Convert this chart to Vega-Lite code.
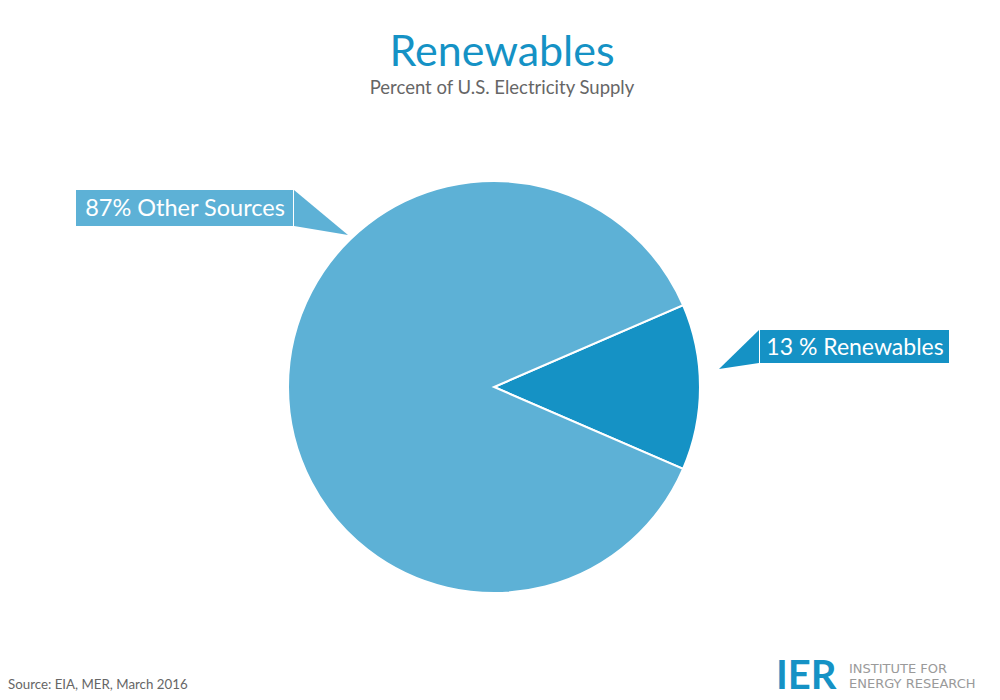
{
  "$schema": "https://vega.github.io/schema/vega-lite/v6.json",
  "width": 1000,
  "height": 700,
  "autosize": {"type": "fit", "contains": "padding"},
  "padding": 0,
  "background": "white",
  "config": {"view": {"stroke": null}, "font": "Lato"},
  "datasets": {
    "slices": [
      {"category": "Renewables", "label": "13 % Renewables", "value": 13, "order": 1},
      {"category": "Other Sources", "label": "87% Other Sources", "value": 87, "order": 2}
    ],
    "notes": [
      {"key": "title", "text": "Renewables"},
      {"key": "subtitle", "text": "Percent of U.S. Electricity Supply"},
      {"key": "source", "text": "Source: EIA, MER, March 2016"},
      {"key": "logo", "text": "IER"},
      {"key": "logotext", "text": ["INSTITUTE FOR", "ENERGY RESEARCH"]}
    ]
  },
  "data": {"name": "slices"},
  "layer": [
    {
      "mark": {"type": "arc", "outerRadius": 206, "stroke": "white", "strokeWidth": 2},
      "encoding": {
        "theta": {"field": "value", "type": "quantitative", "stack": true, "scale": {"range": [1.1624, 7.4456]}},
        "order": {"field": "order", "type": "quantitative"},
        "color": {"field": "category", "type": "nominal", "scale": {"domain": ["Renewables", "Other Sources"], "range": ["#1592c5", "#5db1d6"]}, "legend": null},
        "x": {"datum": 494, "type": "quantitative", "scale": {"domain": [0, 1000], "nice": false, "zero": false}, "axis": null},
        "y": {"datum": 387, "type": "quantitative", "scale": {"domain": [0, 700], "nice": false, "zero": false, "reverse": true}, "axis": null}
      }
    },
    {
      "transform": [{"filter": "datum.category === 'Other Sources'"}],
      "mark": {"type": "rect"},
      "encoding": {
        "x": {"datum": 76, "type": "quantitative"},
        "x2": {"datum": 293},
        "y": {"datum": 190, "type": "quantitative"},
        "y2": {"datum": 226},
        "color": {"field": "category", "type": "nominal", "legend": null}
      }
    },
    {
      "transform": [{"filter": "datum.category === 'Renewables'"}],
      "mark": {"type": "rect"},
      "encoding": {
        "x": {"datum": 760, "type": "quantitative"},
        "x2": {"datum": 949},
        "y": {"datum": 330, "type": "quantitative"},
        "y2": {"datum": 363},
        "color": {"field": "category", "type": "nominal", "legend": null}
      }
    },
    {
      "transform": [{"filter": "datum.category === 'Other Sources'"}],
      "mark": {"type": "point", "shape": "M0,0 L0,0.72 L1.08,0.9 Z", "size": 10000, "filled": true, "opacity": 1, "strokeWidth": 0},
      "encoding": {
        "x": {"datum": 294, "type": "quantitative"},
        "y": {"datum": 190, "type": "quantitative"},
        "color": {"field": "category", "type": "nominal", "legend": null}
      }
    },
    {
      "transform": [{"filter": "datum.category === 'Renewables'"}],
      "mark": {"type": "point", "shape": "M0,0 L0,0.66 L-0.8,0.78 Z", "size": 10000, "filled": true, "opacity": 1, "strokeWidth": 0},
      "encoding": {
        "x": {"datum": 759, "type": "quantitative"},
        "y": {"datum": 330, "type": "quantitative"},
        "color": {"field": "category", "type": "nominal", "legend": null}
      }
    },
    {
      "transform": [{"filter": "datum.category === 'Other Sources'"}],
      "mark": {"type": "text", "color": "white", "fontSize": 23.5, "font": "Lato", "align": "center", "baseline": "alphabetic"},
      "encoding": {
        "x": {"datum": 185, "type": "quantitative"},
        "y": {"datum": 216, "type": "quantitative"},
        "text": {"field": "label"}
      }
    },
    {
      "transform": [{"filter": "datum.category === 'Renewables'"}],
      "mark": {"type": "text", "color": "white", "fontSize": 23, "font": "Lato", "align": "center", "baseline": "alphabetic"},
      "encoding": {
        "x": {"datum": 855, "type": "quantitative"},
        "y": {"datum": 355, "type": "quantitative"},
        "text": {"field": "label"}
      }
    },
    {
      "data": {"name": "notes"},
      "transform": [{"filter": "datum.key === 'title'"}],
      "mark": {"type": "text", "color": "#1592c5", "fontSize": 43, "font": "Lato", "align": "center", "baseline": "alphabetic"},
      "encoding": {
        "x": {"datum": 502, "type": "quantitative"},
        "y": {"datum": 66, "type": "quantitative"},
        "text": {"field": "text"}
      }
    },
    {
      "data": {"name": "notes"},
      "transform": [{"filter": "datum.key === 'subtitle'"}],
      "mark": {"type": "text", "color": "#666666", "fontSize": 18.5, "font": "Lato", "align": "center", "baseline": "alphabetic"},
      "encoding": {
        "x": {"datum": 502, "type": "quantitative"},
        "y": {"datum": 93.5, "type": "quantitative"},
        "text": {"field": "text"}
      }
    },
    {
      "data": {"name": "notes"},
      "transform": [{"filter": "datum.key === 'source'"}],
      "mark": {"type": "text", "color": "#666666", "fontSize": 13.3, "font": "Lato", "align": "left", "baseline": "alphabetic"},
      "encoding": {
        "x": {"datum": 8, "type": "quantitative"},
        "y": {"datum": 689, "type": "quantitative"},
        "text": {"field": "text"}
      }
    },
    {
      "data": {"name": "notes"},
      "transform": [{"filter": "datum.key === 'logo'"}],
      "mark": {"type": "text", "color": "#1592c5", "fontSize": 40, "fontWeight": "bold", "font": "Lato", "align": "left", "baseline": "alphabetic"},
      "encoding": {
        "x": {"datum": 776, "type": "quantitative"},
        "y": {"datum": 689, "type": "quantitative"},
        "text": {"field": "text"}
      }
    },
    {
      "data": {"name": "notes"},
      "transform": [{"filter": "datum.key === 'logotext'"}],
      "mark": {"type": "text", "color": "#9a9a9a", "fontSize": 13, "lineHeight": 15.2, "font": "DejaVu Sans", "align": "left", "baseline": "alphabetic"},
      "encoding": {
        "x": {"datum": 849, "type": "quantitative"},
        "y": {"datum": 672.5, "type": "quantitative"},
        "text": {"field": "text"}
      }
    }
  ]
}
